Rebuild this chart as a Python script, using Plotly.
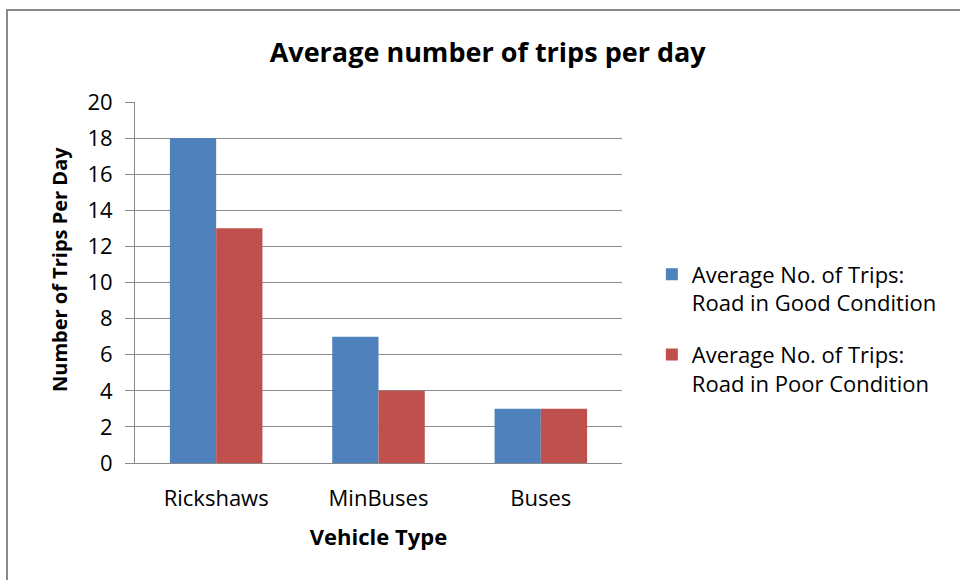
import plotly.graph_objects as go

categories = ["Rickshaws", "MinBuses", "Buses"]
good_road = [18, 7, 3]
poor_road = [13, 4, 3]
series_names = ["Average No. of Trips:<br>Road in Good Condition",
                "Average No. of Trips:<br>Road in Poor Condition"]
y_ticks = [0, 2, 4, 6, 8, 10, 12, 14, 16, 18, 20]
y_title = "Number of Trips Per Day"

FONT = "Open Sans, Carlito, Calibri, sans-serif"
ML, MR, MT, MB = 135, 338, 102, 117
PW = 960 - ML - MR
PH = 580 - MT - MB

fig = go.Figure()
fig.add_trace(go.Bar(x=categories, y=good_road, name=series_names[0],
                     legendgroup="good",
                     marker=dict(color="#4F81BD", line=dict(width=0))))
fig.add_trace(go.Bar(x=categories, y=poor_road, name=series_names[1],
                     legendgroup="poor",
                     marker=dict(color="#C0504D", line=dict(width=0))))

fig.update_layout(
    width=960, height=580,
    margin=dict(l=ML, r=MR, t=MT, b=MB),
    paper_bgcolor="white", plot_bgcolor="white",
    barmode="group", bargap=0.43, bargroupgap=0,
    font=dict(family=FONT, size=18, color="#000000"),
    title=dict(text="<b>Average number of trips per day</b>",
               font=dict(family=FONT, size=27, color="#000"),
               x=0.508, xanchor="center", y=0.91, yanchor="middle",
               xref="container", yref="container"),
    legend=dict(xref="container", yref="container", x=0.679, y=0.563,
                xanchor="left", yanchor="top", valign="top",
                font=dict(family=FONT, size=22, color="#000"),
                tracegroupgap=20, itemsizing="constant", itemwidth=30,
                bgcolor="rgba(0,0,0,0)"),
    showlegend=True,
)
fig.update_xaxes(
    title=dict(text="<b>Vehicle Type</b>", font=dict(family=FONT, size=22),
               standoff=18),
    showline=True, linecolor="#888888", linewidth=1,
    ticks="", ticklabelstandoff=16, tickfont=dict(family=FONT, size=22),
)
fig.update_yaxes(
    range=[0, 20], tickvals=y_ticks, ticktext=[str(v) for v in y_ticks],
    showgrid=True, gridcolor="#8C8C8C", gridwidth=1,
    showline=True, linecolor="#888888", linewidth=1,
    ticks="outside", ticklen=9, tickcolor="#888888",
    ticklabelstandoff=8, zeroline=False, tickfont=dict(family=FONT, size=22),
)

# y axis title as rotated annotation (positioned like the original)
fig.add_annotation(text="<b>" + y_title + "</b>", textangle=-90,
                   xref="paper", yref="paper",
                   x=(59 - ML) / PW, y=1 - (270 - MT) / PH,
                   xanchor="center", yanchor="middle", showarrow=False,
                   font=dict(family=FONT, size=20, color="#000"))

# outer chart frame
fig.add_shape(type="rect", xref="paper", yref="paper",
              x0=(7 - ML) / PW, x1=1 + (MR + 20) / PW,
              y0=-(MB + 20) / PH, y1=1 + (MT - 10) / PH,
              line=dict(color="#8A8A8A", width=2), fillcolor="rgba(0,0,0,0)",
              layer="below")

fig.write_html("out.html")
